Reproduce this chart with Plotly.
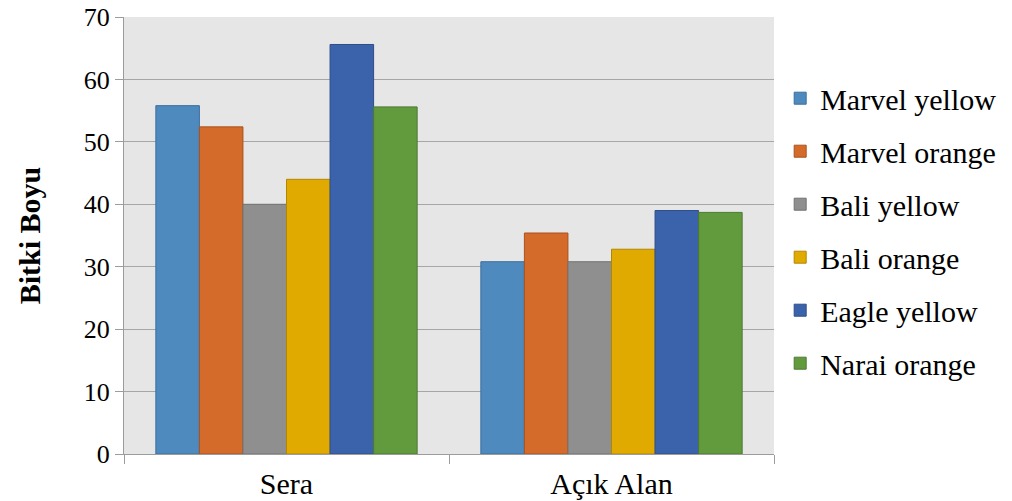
import plotly.graph_objects as go

categories = ["Sera", "Açık Alan"]
series_names = ["Marvel yellow", "Marvel orange", "Bali yellow", "Bali orange", "Eagle yellow", "Narai orange"]
marvel_yellow = [55.8, 30.8]
marvel_orange = [52.4, 35.4]
bali_yellow = [40.0, 30.8]
bali_orange = [44.0, 32.8]
eagle_yellow = [65.6, 39.0]
narai_orange = [55.6, 38.7]
y_ticks = [0, 10, 20, 30, 40, 50, 60, 70]

values = [marvel_yellow, marvel_orange, bali_yellow, bali_orange, eagle_yellow, narai_orange]
fills = ["#4F8ABE", "#D46B2A", "#8F8F8F", "#E0AA00", "#3B63AC", "#629A3E"]
edges = ["#3C6E9C", "#A8531F", "#727272", "#B28700", "#2E4E88", "#4D7A30"]

fig = go.Figure()
for i, (name, vals) in enumerate(zip(series_names, values)):
    fig.add_trace(go.Bar(
        x=categories, y=vals, name=name, legendgroup=name,
        marker=dict(color=fills[i], line=dict(color=edges[i], width=1)),
    ))

font_family = "Liberation Serif, Times New Roman, serif"
# page body has an 8px margin, so the figure is shifted by 8px
fig.update_layout(
    width=1004, height=493,
    margin=dict(l=116, r=238, t=9, b=47, autoexpand=False),
    paper_bgcolor="white", plot_bgcolor="#E6E6E6",
    barmode="group", bargap=0.196, bargroupgap=0,
    font=dict(family=font_family, size=26, color="black"),
    showlegend=True,
    legend=dict(x=1.0095, y=0.511, xanchor="left", yanchor="middle",
                font=dict(family=font_family, size=30, color="black"),
                tracegroupgap=11, itemwidth=30),
)
fig.update_xaxes(
    showgrid=False, showline=True, linecolor="#9C9C9C", linewidth=1.3,
    ticks="outside", tickson="boundaries", ticklen=9, tickcolor="#9C9C9C", tickwidth=1.3,
    tickfont=dict(family=font_family, size=30, color="black"),
    ticklabelstandoff=3, ticklabeloverflow="allow",
)
fig.update_yaxes(
    range=[0, 70], tickvals=y_ticks, showgrid=True, gridcolor="#A6A6A6", gridwidth=1.3,
    showline=True, linecolor="#9C9C9C", linewidth=1.3,
    ticks="outside", ticklen=8, tickcolor="#9C9C9C", tickwidth=1.3,
    tickfont=dict(family=font_family, size=26, color="black"),
    ticklabeloverflow="allow",
    zeroline=False,
    title=dict(text="<b>Bitki Boyu</b>", font=dict(family=font_family, size=30, color="black"), standoff=34),
)
fig.write_html("out.html")
